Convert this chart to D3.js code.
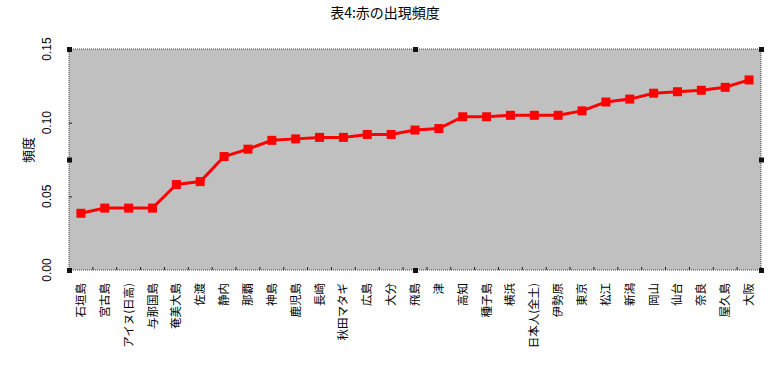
<!DOCTYPE html>
<html><head><meta charset="utf-8">
<script src="https://cdn.jsdelivr.net/npm/d3@7"></script>
<style>
body{margin:0;background:#fff;}
text{font-family:"Noto Sans CJK JP","Noto Sans",sans-serif;}
</style></head>
<body><svg id="c" width="775" height="376"></svg>
<script>
const categories = ["石垣島","宮古島","アイヌ(日高)","与那国島","奄美大島","佐渡","静内","那覇","神島","鹿児島","長崎","秋田マタギ","広島","大分","飛島","津","高知","種子島","横浜","日本人(全土)","伊勢原","東京","松江","新潟","岡山","仙台","奈良","屋久島","大阪"];
const values = [0.0385,0.042,0.042,0.042,0.058,0.060,0.077,0.082,0.088,0.089,0.090,0.090,0.092,0.092,0.095,0.096,0.104,0.104,0.105,0.105,0.105,0.108,0.114,0.116,0.120,0.121,0.122,0.124,0.129];
const yTicks = [0, 0.05, 0.10, 0.15];
const title = "表4:赤の出現頻度";
const yTitle = "頻度";

const svg = d3.select("#c");
const L = 69, R = 761, T = 49, B = 270;
const x = d3.scaleBand().domain(categories).range([L, R]);
const y = d3.scaleLinear().domain([0, 0.15]).range([B, T]);

svg.append("rect").attr("x", L).attr("y", T).attr("width", R - L).attr("height", B - T)
  .attr("fill", "#c0c0c0").attr("stroke", "#444").attr("stroke-width", 1).attr("stroke-dasharray", "1,1");

// inward minor ticks
const xAxis = d3.axisBottom(x).tickSize(-3).tickFormat("");
const gx = svg.append("g").attr("transform", `translate(0,${B})`).call(xAxis);
gx.select(".domain").remove();
gx.selectAll(".tick line").attr("transform", `translate(${x.bandwidth()/2},0)`).attr("stroke", "#222");

const yAxis = d3.axisLeft(y).tickValues(yTicks).tickSize(-3).tickFormat("");
const gy = svg.append("g").attr("transform", `translate(${L},0)`).call(yAxis);
gy.select(".domain").remove();
gy.selectAll(".tick line").attr("stroke", "#222");

// selection handles
const hs = [[L,T],[(L+R)/2,T],[R,T],[L,(T+B)/2],[R,(T+B)/2],[L,B],[(L+R)/2,B],[R,B]];
svg.selectAll(".h").data(hs).enter().append("rect")
  .attr("x", d => d[0]-2).attr("y", d => d[1]-2).attr("width", 5).attr("height", 5)
  .attr("fill", "#111");

// y tick labels
svg.selectAll(".yl").data(yTicks).enter().append("text")
  .attr("transform", d => `translate(51,${y(d)}) rotate(-90)`)
  .attr("text-anchor", "middle").attr("font-size", 12)
  .style("font-family", "'Liberation Sans',Arial,sans-serif")
  .text(d => d3.format(".2f")(d));

svg.append("text").attr("transform", "translate(33,150) rotate(-90)")
  .attr("text-anchor", "middle").attr("font-size", 13).text(yTitle);

svg.append("text").attr("x", 385).attr("y", 18).attr("text-anchor", "middle")
  .attr("font-size", 14).text(title);

// x labels
svg.selectAll(".xl").data(categories).enter().append("text")
  .attr("transform", d => `translate(${x(d)+x.bandwidth()/2+4},283) rotate(-90)`)
  .attr("text-anchor", "end").attr("font-size", 11.5).text(d => d);

// line
const cx = d => x(d) + x.bandwidth()/2;
svg.append("path").datum(values)
  .attr("d", d3.line().x((v,i) => cx(categories[i])).y(v => y(v)))
  .attr("fill", "none").attr("stroke", "#ff0000").attr("stroke-width", 3);
svg.selectAll(".m").data(values).enter().append("rect")
  .attr("x", (v,i) => cx(categories[i]) - 4.5).attr("y", v => y(v) - 4.5)
  .attr("width", 9).attr("height", 9).attr("fill", "#ff0000");
</script></body></html>
